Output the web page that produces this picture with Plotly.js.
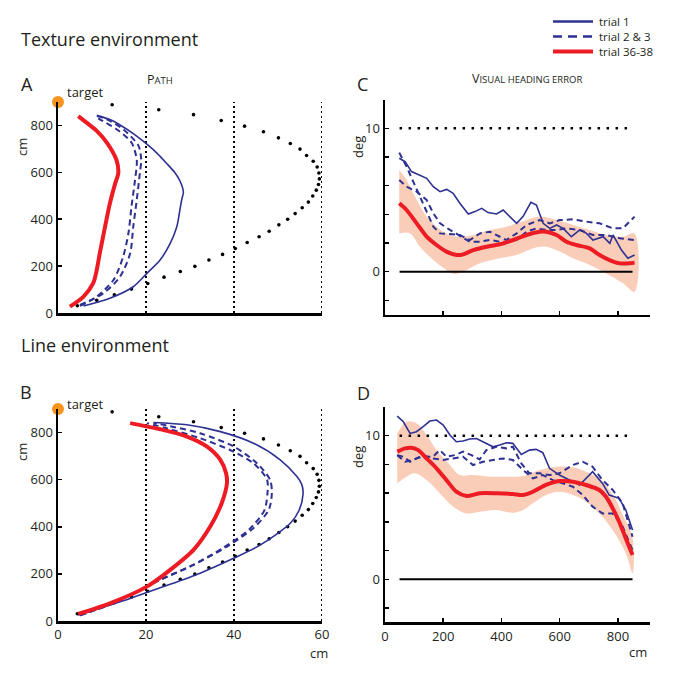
<!DOCTYPE html>
<html><head><meta charset="utf-8">
<script src="https://cdn.plot.ly/plotly-3.0.1.min.js"></script>
<style>body{margin:0;background:#fff}#chart{width:674px;height:681px}</style>
</head><body><div id="chart"></div><script>
// ---------- DATA ----------
// reference (dotted) path, shared by panels A and B
var refPathX = [4.4,8.8,12.8,16.7,20.4,24.1,27.8,31.1,34.3,37.4,40.3,43.0,45.7,48.0,50.2,52.2,53.9,55.5,56.9,57.9,58.7,59.2,59.4,59.3,58.9,58.0,56.5,55.0,52.8,50.1,46.7,42.4,37.1,30.8,22.9,12.3];
var refPathY = [31,54,78,102,126,153,177,199,226,250,275,301,325,349,376,400,424,449,473,499,524,548,572,597,623,647,672,699,723,747,773,797,821,846,867,888];
var gridX = [20,40,60];
var target = {x:[0], y:[900]};
var legendNames = ['trial 1','trial 2 &amp; 3','trial 36-38'];

// Panel A (texture environment) paths
var aTrial1X = [5.8,11.8,17.1,20.2,23.2,25.5,27.0,27.7,28.1,28.5,27.8,26.5,24.6,22.6,20.2,17.5,14.3,11.8,8.8];
var aTrial1Y = [30,63,112,169,226,297,368,439,482,515,560,600,640,680,720,760,800,825,843];
var aTrial2X = [5.0,10.3,14.1,16.4,17.1,17.9,18.6,18.9,18.3,14.8,11.1,8.8];
var aTrial2Y = [34,84,155,255,368,482,596,652,713,784,826,840];
var aTrial3X = [5.0,8.8,12.6,14.8,16.0,16.7,17.5,17.9,16.7,13.3,9.5,8.5];
var aTrial3Y = [30,70,141,240,340,453,567,652,727,784,826,838];
var aLateX = [2.7,5.8,8.0,8.8,9.5,10.7,11.8,13.0,13.7,13.3,11.1,8.8,6.5,4.6];
var aLateY = [27,70,127,183,255,368,468,553,596,652,727,777,812,840];

// Panel B (line environment) paths
var bTrial1X = [4.6,16.4,24.0,32.3,39.9,46.0,52.8,54.8,55.7,55.4,54.3,50.5,44.4,36.9,29.3,21.7];
var bTrial1Y = [25,96,146,203,266,323,415,470,540,580,613,684,755,804,833,843];
var bTrial2X = [5.0,13.0,23.2,30.8,38.4,44.4,47.9,48.6,48.2,45.2,39.9,32.3,24.7,21.7];
var bTrial2Y = [24,80,174,238,316,394,472,542,599,670,741,797,830,840];
var bTrial3X = [5.0,13.0,22.5,30.0,37.5,43.5,46.9,47.6,47.5,44.4,39.1,32.3,24.7,20.2];
var bTrial3Y = [24,78,170,232,310,390,470,540,600,670,726,776,818,840];
var bLateX = [4.6,11.8,20.2,25.5,30.8,34.6,37.2,38.4,38.2,36.9,33.8,29.3,23.2,16.4];
var bLateY = [30,75,146,217,302,401,500,585,627,684,741,783,814,840];

// Panel C (texture: visual heading error, deg vs cm)
var cLateX = [49,74,109,143,177,211,246,269,303,349,394,440,486,531,554,589,623,657,703,737,771,806,840,857];
var cLateY = [4.77,4.3,3.37,2.44,1.86,1.40,1.16,1.21,1.51,1.74,1.91,2.21,2.56,2.79,2.79,2.56,2.09,1.86,1.63,1.16,0.81,0.58,0.58,0.63];
var cBandUpX = [49,74,109,143,177,211,246,303,360,417,486,531,589,646,703,760,817,857];
var cBandUpY = [7.09,6.4,5.0,3.84,3.14,2.67,2.44,2.56,2.91,3.14,3.6,3.84,3.6,3.26,2.91,2.56,2.44,2.67];
var cBandLoX = [49,86,120,166,211,240,280,326,394,451,509,554,600,646,703,760,817,857];
var cBandLoY = [2.67,2.67,1.74,0.81,0.12,-0.16,0.12,0.58,0.93,1.16,1.63,1.74,1.4,0.93,0.47,-0.12,-0.81,-1.4];
var cTrial1X = [49,69,91,120,143,166,189,212,234,257,286,309,332,354,383,406,429,452,474,501,520,543,566,589,612,640,669,692,714,749,772,783,812,834,857];
var cTrial1Y = [7.91,7.67,6.98,6.74,6.51,5.93,5.58,5.74,5.47,4.77,4.02,4.19,4.42,4.12,4.02,4.3,3.84,3.37,3.84,4.84,4.65,3.37,3.02,3.26,3.02,2.44,2.91,2.67,2.21,2.44,1.98,2.56,1.51,0.93,1.16];
var cTrial2X = [49,74,97,120,143,166,189,223,257,291,326,360,394,417,452,486,531,566,600,646,692,737,783,817,857];
var cTrial2Y = [8.3,7.33,6.28,5.23,4.07,3.14,2.67,2.63,2.56,2.21,2.67,2.79,2.44,2.21,2.67,3.26,3.6,3.37,3.6,3.65,3.49,3.37,3.02,3.02,3.84];
var cTrial3X = [49,74,109,143,166,189,223,257,291,326,360,394,417,452,486,520,554,589,623,669,714,760,806,857];
var cTrial3Y = [6.4,5.93,5.58,5.0,4.07,3.37,2.91,2.49,2.09,2.09,2.21,2.09,2.09,2.21,2.79,3.02,2.91,2.91,3.02,2.91,2.56,2.56,2.33,2.21];

// Panel D (line: visual heading error)
var dLateX = [42,69,91,114,143,177,211,245,280,325,382,439,474,508,553,599,645,690,736,759,782,804,827,850];
var dLateY = [8.89,9.12,9.16,9.0,8.42,7.73,6.91,6.1,5.8,5.99,5.99,5.94,5.87,6.1,6.57,6.84,6.8,6.57,6.22,5.75,4.94,4.01,2.85,1.69];
var dBandUpX = [42,74,108,143,177,223,257,302,359,417,474,531,588,645,690,736,782,816,850];
var dBandUpY = [10.16,10.97,10.86,10.05,9.0,7.96,7.26,7.26,7.15,7.15,7.19,7.61,7.84,7.8,7.49,7.0,5.9,4.5,2.9];
var dBandLoX = [42,74,103,143,188,234,280,325,382,439,474,508,553,599,645,690,736,782,827,850];
var dBandLoY = [6.68,7.15,7.38,6.91,5.99,5.06,4.59,4.71,4.83,4.64,4.83,5.29,5.87,6.1,5.87,5.41,4.59,3.43,1.81,0.42];
var dTrial1X = [42,63,86,108,131,154,177,200,223,245,268,291,314,348,371,394,417,439,468,496,519,542,565,599,633,668,713,747,770,804,827,850];
var dTrial1Y = [11.37,10.97,10.16,10.28,10.63,11.02,11.09,10.74,10.05,9.58,9.63,9.77,9.81,9.47,9.23,9.35,9.51,9.47,8.7,9.0,9.05,8.82,7.73,7.26,6.91,6.57,7.49,6.68,5.87,5.64,4.83,3.43];
var dTrial2X = [42,63,86,108,131,165,188,211,240,268,297,325,348,382,417,439,468,496,531,565,599,645,679,713,747,782,816,850];
var dTrial2Y = [8.65,8.54,8.19,8.42,8.54,8.54,9.0,8.54,8.65,8.89,8.65,8.35,9.0,9.23,9.12,9.23,8.07,7.38,7.38,7.26,7.38,7.96,8.19,7.84,6.91,6.22,5.29,2.97];
var dTrial3X = [42,69,97,131,165,200,234,268,302,337,371,405,439,474,508,542,576,610,645,679,713,747,782,816,850];
var dTrial3Y = [8.65,8.19,8.31,8.65,8.42,8.31,8.42,8.54,7.96,8.19,8.31,8.42,8.31,7.61,7.03,7.26,6.91,6.68,6.45,5.87,5.06,4.59,4.59,3.67,2.04];

// reference lines in C/D
var hLineX = [50,850];
var zeroY = [0,0];
var tenY = [10,10];

// ---------- STYLE ----------
var NAVY = '#2e3192', RED = '#ed1c24', BAND = 'rgba(249,196,172,0.85)', INK = '#231f20';
var FONT = 'Open Sans, Noto Sans, sans-serif';
var solidBlue = {color:NAVY, width:1.6};
var dashBlue = {color:NAVY, width:2, dash:'6px,4px'};
var redLine = {color:RED, width:4};

var traces = [];
function add(x, y, xa, ya, line, extra){
  var t = {x:x, y:y, xaxis:xa, yaxis:ya, mode:'lines', line:line, showlegend:false, hoverinfo:'skip'};
  for (var k in extra) t[k] = extra[k];
  traces.push(t);
}
function band(ux, uy, lx, ly, xa, ya){
  traces.push({x: ux.concat(lx.slice().reverse()), y: uy.concat(ly.slice().reverse()),
    xaxis:xa, yaxis:ya, mode:'lines', fill:'toself', fillcolor:BAND, line:{width:0, shape:'spline'},
    showlegend:false, hoverinfo:'skip'});
}
function pathPanel(xa, ya, t1x,t1y,t2x,t2y,t3x,t3y,lx,ly){
  gridX.forEach(function(g){ add([g,g],[0,900],xa,ya,{color:'black',width:2,dash:'2px,3px'}); });
  traces.push({x:refPathX, y:refPathY, xaxis:xa, yaxis:ya, mode:'markers',
    marker:{color:'black', size:3.6, symbol:'circle'}, showlegend:false, hoverinfo:'skip', cliponaxis:false});
  var sp = {shape:'spline', smoothing:0.8};
  add(t1x,t1y,xa,ya,Object.assign({},solidBlue,sp));
  add(t2x,t2y,xa,ya,Object.assign({},dashBlue,sp));
  add(t3x,t3y,xa,ya,Object.assign({},dashBlue,sp));
  add(lx,ly,xa,ya,Object.assign({},redLine,sp));
  traces.push({x:target.x, y:target.y, xaxis:xa, yaxis:ya, mode:'markers',
    marker:{color:'#f7941d', size:12}, cliponaxis:false, showlegend:false, hoverinfo:'skip'});
}
function errPanel(xa, ya, ux,uy,lx2,ly2, t1x,t1y,t2x,t2y,t3x,t3y,rx,ry){
  band(ux,uy,lx2,ly2,xa,ya);
  add(hLineX, tenY, xa, ya, {color:'black', width:2.5, dash:'2.5px,6.5px'});
  add(hLineX, zeroY, xa, ya, {color:'black', width:2});
  add(t2x,t2y,xa,ya,dashBlue);
  add(t3x,t3y,xa,ya,dashBlue);
  add(t1x,t1y,xa,ya,solidBlue);
  add(rx,ry,xa,ya,Object.assign({},redLine,{shape:'spline', smoothing:0.8}));
}

pathPanel('x','y', aTrial1X,aTrial1Y,aTrial2X,aTrial2Y,aTrial3X,aTrial3Y,aLateX,aLateY);
errPanel('x2','y2', cBandUpX,cBandUpY,cBandLoX,cBandLoY, cTrial1X,cTrial1Y,cTrial2X,cTrial2Y,cTrial3X,cTrial3Y,cLateX,cLateY);
pathPanel('x3','y3', bTrial1X,bTrial1Y,bTrial2X,bTrial2Y,bTrial3X,bTrial3Y,bLateX,bLateY);
errPanel('x4','y4', dBandUpX,dBandUpY,dBandLoX,dBandLoY, dTrial1X,dTrial1Y,dTrial2X,dTrial2Y,dTrial3X,dTrial3Y,dLateX,dLateY);

// ---------- LAYOUT ----------
var W = 674, H = 681;
function px(v){ return v / W; }
function py(v){ return 1 - v / H; }
function baseAxis(extra){
  var a = {showline:true, linecolor:'black', linewidth:2.5, showgrid:false, zeroline:false,
    ticks:'inside', ticklen:4, tickwidth:1.5, tickcolor:'black',
    tickfont:{family:FONT, size:13, color:INK}, fixedrange:true};
  for (var k in extra) a[k] = extra[k];
  return a;
}
var pathYTicks = [0,200,400,600,800];
var errXTicks = [0,200,400,600,800];
var errYTicks = [-2,0,2,4,6,8,10];
var errYText = ['','0','','','','','10'];

function ann(text, x, y, opts){
  var a = {text:text, x:x, y:y, xref:'paper', yref:'paper', showarrow:false,
    xanchor:'left', yanchor:'middle', font:{family:FONT, size:13, color:INK}};
  for (var k in opts) a[k] = opts[k];
  return a;
}
var big = {family:FONT, size:18, color:INK};

// hand-drawn legend (compact rows like the reference)
var legendStyles = [
  {color:NAVY, width:2.5},
  {color:NAVY, width:2.5, dash:'9px,6px'},
  {color:RED, width:4}
];
var legendFont = 11.5;
var legendMidY = 36.5;
var legendStep = legendFont * 1.3;
var shapes = [];
legendNames.forEach(function(n, i){
  var yy = legendMidY + (i - 1) * legendStep;
  shapes.push({type:'line', xref:'paper', yref:'paper', x0:px(553), x1:px(593),
    y0:py(yy), y1:py(yy), line:legendStyles[i]});
});
var legendAnn = ann(legendNames.join('<br>'), px(598), py(legendMidY),
  {align:'left', borderpad:0, font:{family:FONT, size:legendFont, color:INK}});

var layout = {
  width:W, height:H, margin:{l:0,r:0,t:0,b:0}, paper_bgcolor:'white', plot_bgcolor:'white',
  font:{family:FONT, color:INK},
  showlegend:false,
  shapes: shapes,
  xaxis: baseAxis({domain:[px(58),px(322)], range:[0,60], ticks:'', showticklabels:false, anchor:'y'}),
  yaxis: baseAxis({domain:[py(313),py(102)], range:[0,900], tickvals:pathYTicks, anchor:'x'}),
  xaxis2: baseAxis({domain:[px(385),px(650)], range:[0,910], tickvals:errXTicks, showticklabels:false, anchor:'y2'}),
  yaxis2: baseAxis({domain:[py(314.7),py(99.6)], range:[-3,12], tickvals:errYTicks, ticktext:errYText, anchor:'x2'}),
  xaxis3: baseAxis({domain:[px(58),px(322)], range:[0,60], ticks:'', tickvals:[0,20,40,60], anchor:'y3'}),
  yaxis3: baseAxis({domain:[py(621),py(409)], range:[0,900], tickvals:pathYTicks, anchor:'x3'}),
  xaxis4: baseAxis({domain:[px(385),px(650)], range:[0,910], tickvals:errXTicks, anchor:'y4'}),
  yaxis4: baseAxis({domain:[py(622.4),py(407)], range:[-3,12], tickvals:errYTicks, ticktext:errYText, anchor:'x4'}),
  annotations:[
    ann('Texture environment', px(19), py(39), {font:big}),
    ann('Line environment', px(19), py(345), {font:big}),
    ann('A', px(19), py(84), {font:big}),
    ann('C', px(355), py(84), {font:big}),
    ann('B', px(18), py(392), {font:big}),
    ann('D', px(355), py(393), {font:big}),
    ann('P<span style="font-size:9.5px">ATH</span>', px(160), py(79), {xanchor:'center', font:{family:FONT,size:12.5,color:INK}}),
    ann('V<span style="font-size:9.5px">ISUAL HEADING ERROR</span>', px(527), py(78), {xanchor:'center', font:{family:FONT,size:12.5,color:INK}}),
    ann('target', px(65), py(92)),
    ann('target', px(65), py(404)),
    ann('cm', px(22), py(147), {xanchor:'center', textangle:-90}),
    ann('cm', px(22), py(452), {xanchor:'center', textangle:-90}),
    ann('deg', px(358), py(147), {xanchor:'center', textangle:-90}),
    ann('deg', px(358), py(457), {xanchor:'center', textangle:-90}),
    ann('cm', px(319), py(653), {xanchor:'center'}),
    ann('cm', px(638), py(652), {xanchor:'center'}),
    legendAnn
  ]
};

Plotly.newPlot('chart', traces, layout, {staticPlot:true, displayModeBar:false});
</script></body></html>
